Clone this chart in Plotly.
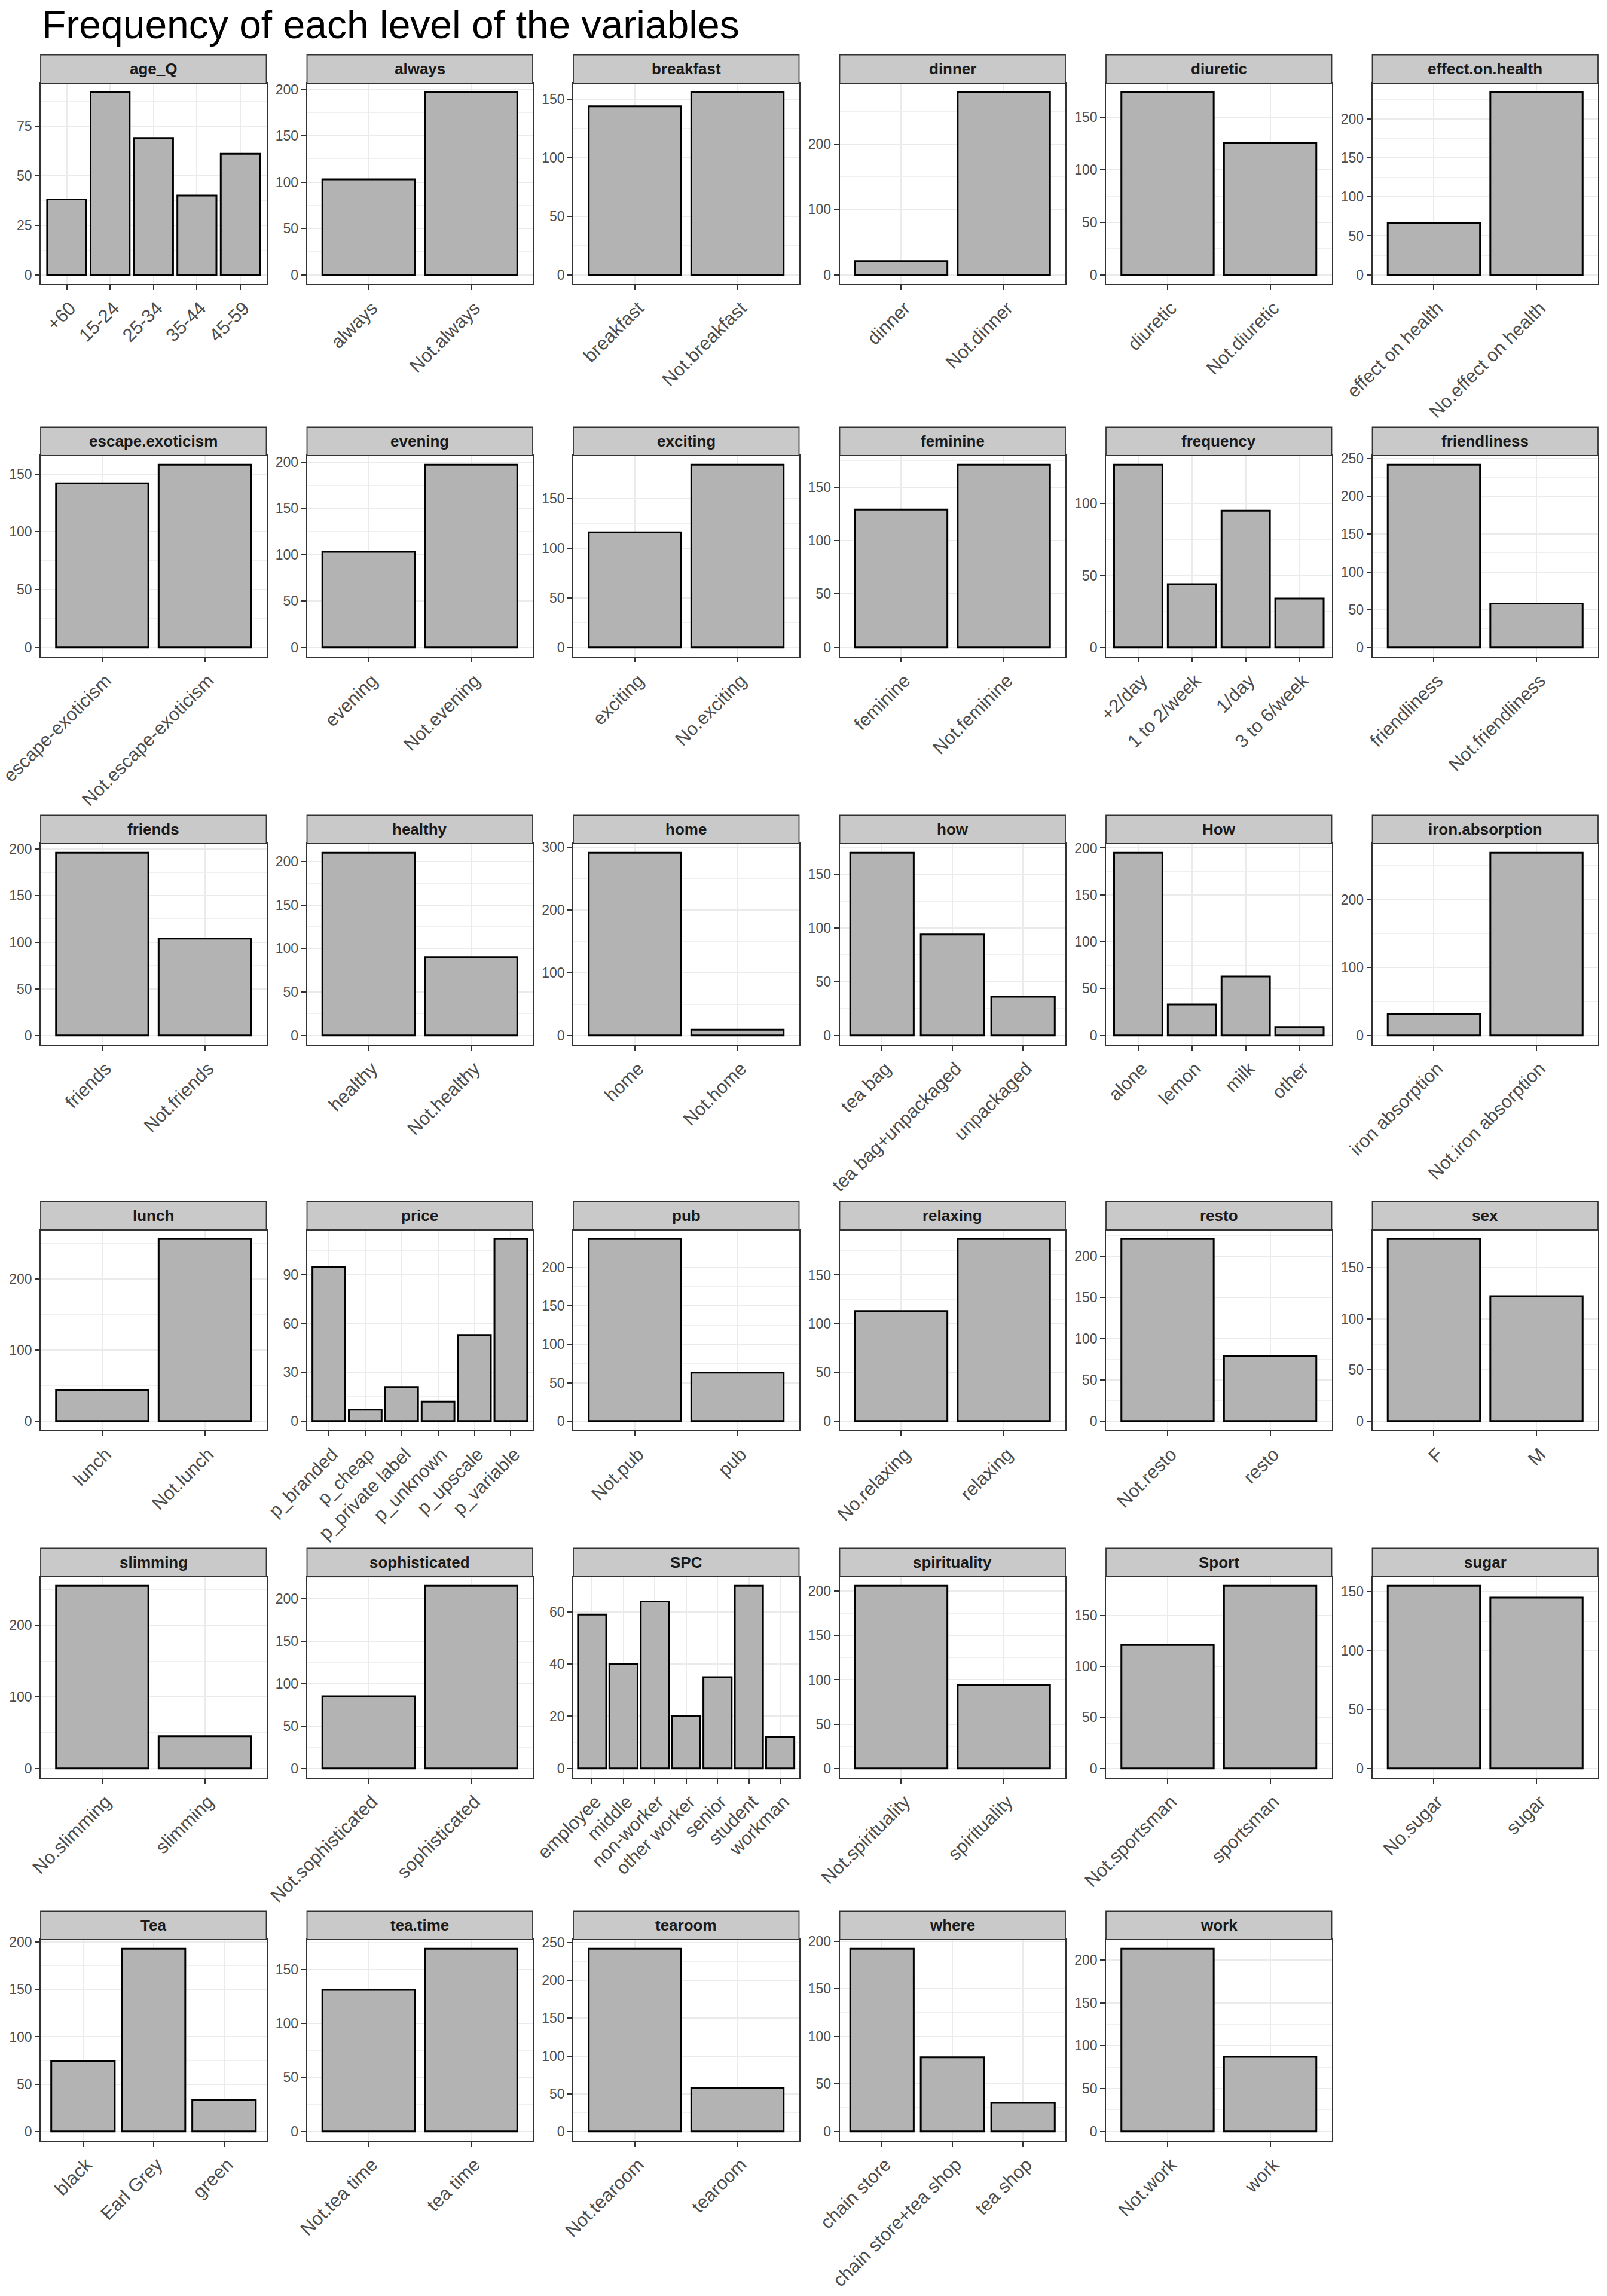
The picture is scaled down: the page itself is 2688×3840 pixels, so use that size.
import plotly.graph_objects as go

# ---------------- data ----------------
variables = ["age_Q", "always", "breakfast", "dinner", "diuretic", "effect.on.health",
             "escape.exoticism", "evening", "exciting", "feminine", "frequency", "friendliness",
             "friends", "healthy", "home", "how", "How", "iron.absorption",
             "lunch", "price", "pub", "relaxing", "resto", "sex",
             "slimming", "sophisticated", "SPC", "spirituality", "Sport", "sugar",
             "Tea", "tea.time", "tearoom", "where", "work"]

levels = [
    ["+60", "15-24", "25-34", "35-44", "45-59"],
    ["always", "Not.always"],
    ["breakfast", "Not.breakfast"],
    ["dinner", "Not.dinner"],
    ["diuretic", "Not.diuretic"],
    ["effect on health", "No.effect on health"],
    ["escape-exoticism", "Not.escape-exoticism"],
    ["evening", "Not.evening"],
    ["exciting", "No.exciting"],
    ["feminine", "Not.feminine"],
    ["+2/day", "1 to 2/week", "1/day", "3 to 6/week"],
    ["friendliness", "Not.friendliness"],
    ["friends", "Not.friends"],
    ["healthy", "Not.healthy"],
    ["home", "Not.home"],
    ["tea bag", "tea bag+unpackaged", "unpackaged"],
    ["alone", "lemon", "milk", "other"],
    ["iron absorption", "Not.iron absorption"],
    ["lunch", "Not.lunch"],
    ["p_branded", "p_cheap", "p_private label", "p_unknown", "p_upscale", "p_variable"],
    ["Not.pub", "pub"],
    ["No.relaxing", "relaxing"],
    ["Not.resto", "resto"],
    ["F", "M"],
    ["No.slimming", "slimming"],
    ["Not.sophisticated", "sophisticated"],
    ["employee", "middle", "non-worker", "other worker", "senior", "student", "workman"],
    ["Not.spirituality", "spirituality"],
    ["Not.sportsman", "sportsman"],
    ["No.sugar", "sugar"],
    ["black", "Earl Grey", "green"],
    ["Not.tea time", "tea time"],
    ["Not.tearoom", "tearoom"],
    ["chain store", "chain store+tea shop", "tea shop"],
    ["Not.work", "work"],
]

counts = [
    [38, 92, 69, 40, 61],
    [103, 197],
    [144, 156],
    [21, 279],
    [174, 126],
    [66, 234],
    [142, 158],
    [103, 197],
    [116, 184],
    [129, 171],
    [127, 44, 95, 34],
    [242, 58],
    [196, 104],
    [210, 90],
    [291, 9],
    [170, 94, 36],
    [195, 33, 63, 9],
    [31, 269],
    [44, 256],
    [95, 7, 21, 12, 53, 112],
    [237, 63],
    [113, 187],
    [221, 79],
    [178, 122],
    [255, 45],
    [85, 215],
    [59, 40, 64, 20, 35, 70, 12],
    [206, 94],
    [121, 179],
    [155, 145],
    [74, 193, 33],
    [131, 169],
    [242, 58],
    [192, 78, 30],
    [213, 87],
]

# y-axis break spacing per panel (style)
y_dtick = [25, 50, 50, 100, 50, 50,
           50, 50, 50, 50, 50, 50,
           50, 50, 100, 50, 50, 100,
           100, 30, 50, 50, 50, 50,
           100, 50, 20, 50, 50, 50,
           50, 50, 50, 50, 50]

title = "Frequency of each level of the variables"

# ---------------- layout geometry (pixels) ----------------
W, H = 2688, 3840
col_x0 = [68, 513.5, 959, 1404.5, 1850, 2295.5]
panel_w = 377.5
row_top = [139, 762, 1411, 2057, 2637, 3244]
row_bot = [475, 1098, 1747, 2392, 2973, 3580]
strip_h = 47.5

FONT = "Liberation Sans, Arial, Helvetica, sans-serif"
BORDER = "#333333"

fig = go.Figure()
shapes = []
annotations = []

for i, (var, lv, ct) in enumerate(zip(variables, levels, counts)):
    r, c = divmod(i, 6)
    ax = "" if i == 0 else str(i + 1)
    x0 = col_x0[c]
    x1 = x0 + panel_w
    yt, yb = row_top[r], row_bot[r]

    fig.add_trace(go.Bar(
        x=lv, y=ct, width=0.9,
        marker=dict(color="#B3B3B3", line=dict(color="black", width=3)),
        xaxis="x" + ax, yaxis="y" + ax, showlegend=False,
    ))

    ymax = max(ct)
    fig.update_layout({
        "xaxis" + ax: dict(
            domain=[x0 / W, x1 / W], anchor="y" + ax, type="category",
            range=[-0.6, len(lv) - 0.4], automargin=False,
            categoryorder="array", categoryarray=lv,
            showgrid=True, gridcolor="#EBEBEB", gridwidth=2.4,
            showline=True, mirror=True, linecolor=BORDER, linewidth=1.6,
            ticks="outside", ticklen=8, tickwidth=2.2, tickcolor=BORDER,
            tickangle=-45, ticklabelshift=6,
            tickfont=dict(family=FONT, size=31, color="#4D4D4D"),
            zeroline=False, fixedrange=True,
        ),
        "yaxis" + ax: dict(
            domain=[(H - yb) / H, (H - yt) / H], anchor="x" + ax,
            range=[-0.05 * ymax, 1.05 * ymax], automargin=False,
            tick0=0, dtick=y_dtick[i],
            showgrid=True, gridcolor="#EBEBEB", gridwidth=2.4,
            minor=dict(tick0=0, dtick=y_dtick[i] / 2, showgrid=True,
                       gridcolor="#F0F0F0", gridwidth=1.2, ticks=""),
            showline=True, mirror=True, linecolor=BORDER, linewidth=1.6,
            ticks="outside", ticklen=8, tickwidth=2.2, tickcolor=BORDER,
            tickfont=dict(family=FONT, size=23, color="#4D4D4D"),
            zeroline=False, fixedrange=True,
        ),
    })

    # facet strip
    s_top = yt - strip_h
    shapes.append(dict(
        type="rect", xref="paper", yref="paper",
        x0=x0 / W, x1=x1 / W, y0=(H - yt) / H, y1=(H - s_top) / H,
        fillcolor="#C9C9C9", line=dict(color=BORDER, width=1.8), layer="above",
    ))
    annotations.append(dict(
        x=(x0 + x1) / 2 / W, y=(H - (yt - strip_h / 2)) / H,
        xref="paper", yref="paper", xanchor="center", yanchor="middle",
        text=var, showarrow=False,
        font=dict(family=FONT, size=26, color="#1A1A1A", weight="bold"),
    ))

annotations.append(dict(
    x=68 / W, y=1 - 2 / H, xref="paper", yref="paper",
    xanchor="left", yanchor="top", text=title, showarrow=False,
    font=dict(family=FONT, size=66, color="black"),
))

fig.update_layout(
    width=W, height=H,
    margin=dict(l=0, r=0, t=0, b=0, autoexpand=False),
    paper_bgcolor="white", plot_bgcolor="white",
    shapes=shapes, annotations=annotations,
    bargap=0.1,
)

fig.write_html("out.html")
